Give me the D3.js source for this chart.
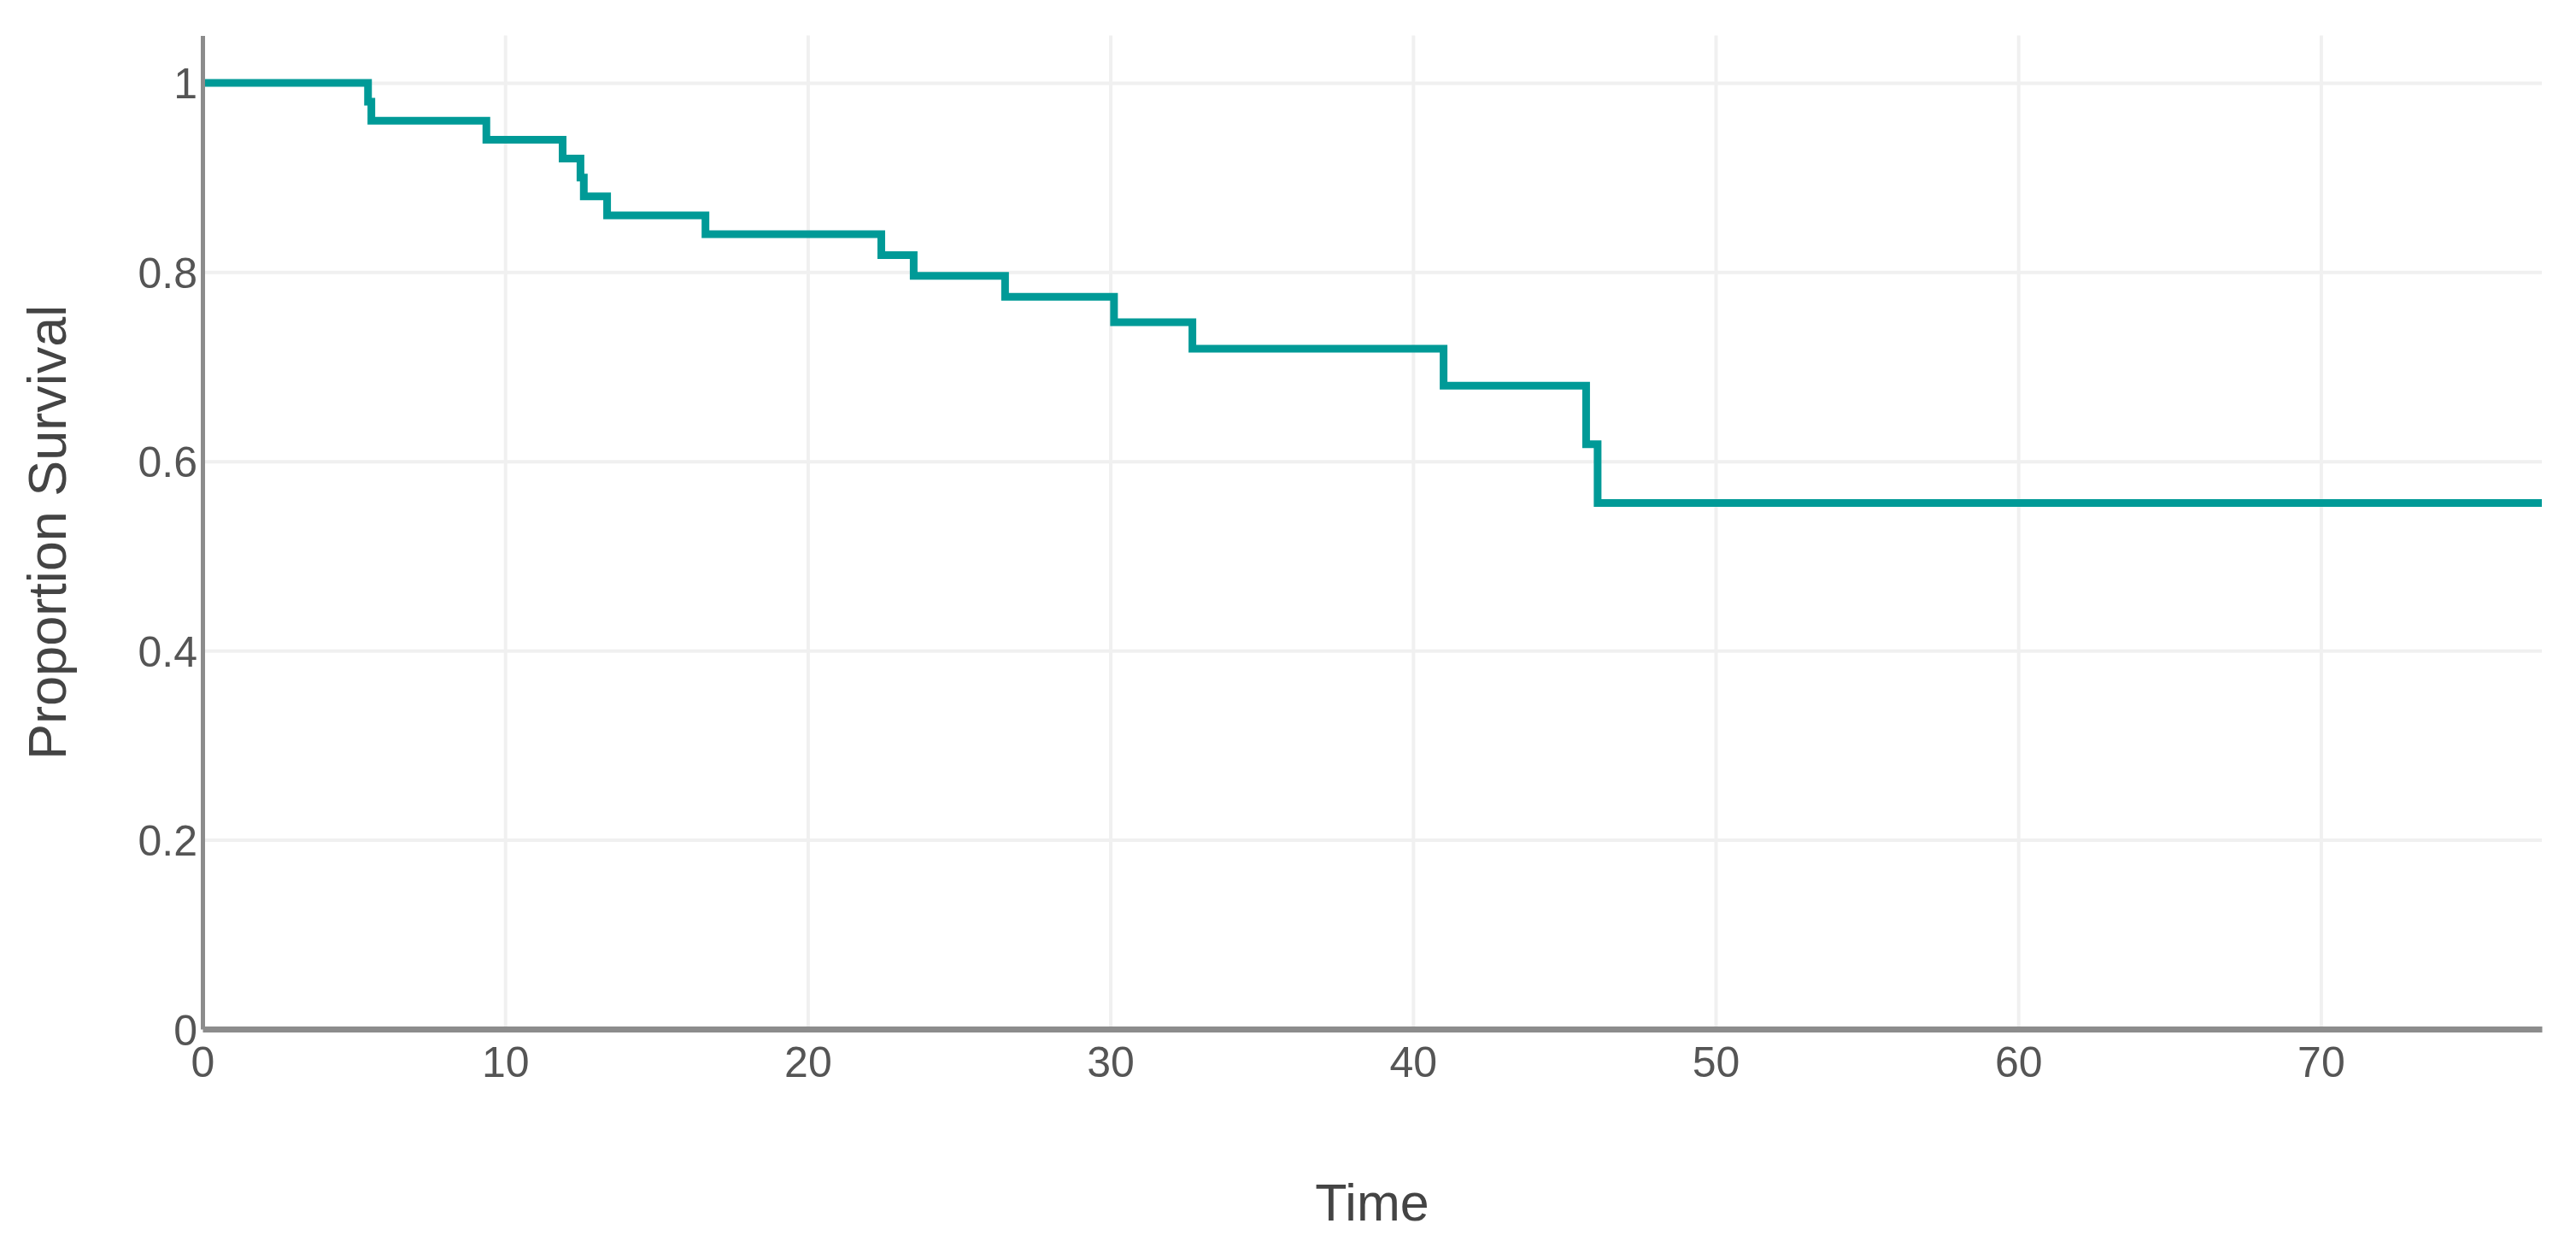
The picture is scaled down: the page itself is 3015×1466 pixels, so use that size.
<!DOCTYPE html>
<html>
<head>
<meta charset="utf-8">
<script src="https://cdn.jsdelivr.net/npm/d3@7"></script>
<style>
  html, body { margin: 0; padding: 0; background: #ffffff; }
  svg { display: block; }
  text { font-family: "Liberation Sans", Arial, Helvetica, sans-serif; }
</style>
</head>
<body>
<svg id="chart" width="3015" height="1466"></svg>
<script>
// ---- data ----
const times    = [0, 5.47, 5.58, 9.38, 11.9, 12.49, 12.6, 13.37, 16.62, 22.43, 23.5, 26.52, 30.12, 32.71, 41.01, 45.72, 46.1];
const survival = [1, 0.98, 0.96, 0.94, 0.92, 0.90, 0.88, 0.86, 0.84, 0.818, 0.796, 0.774, 0.747, 0.719, 0.680, 0.618, 0.556];
const timeEnd  = 77.3;
const xTicks   = [0, 10, 20, 30, 40, 50, 60, 70];
const yTicks   = [0, 0.2, 0.4, 0.6, 0.8, 1];
const yTickLabels = ["0", "0.2", "0.4", "0.6", "0.8", "1"];
const xTitle = "Time";
const yTitle = "Proportion Survival";

// ---- layout ----
const W = 3015, H = 1466;
const mLeft = 237, mRight = 2975, mTop = 41.6, mBottom = 1204;
const svg = d3.select("#chart");
svg.append("rect").attr("width", W).attr("height", H).attr("fill", "#ffffff");

const x = d3.scaleLinear().domain([0, timeEnd]).range([mLeft, mRight]);
const y = d3.scaleLinear().domain([0, 1.05]).range([mBottom, mTop]);

// gridlines
const gx = svg.append("g").attr("transform", `translate(0,${mBottom})`)
  .call(d3.axisBottom(x).tickValues(xTicks.filter(d => d > 0)).tickSize(-(mBottom - mTop)).tickFormat(""));
gx.select(".domain").remove();
gx.selectAll(".tick line").attr("stroke", "#f0f0f0").attr("stroke-width", 4);

const gy = svg.append("g").attr("transform", `translate(${mLeft},0)`)
  .call(d3.axisLeft(y).tickValues(yTicks.filter(d => d > 0)).tickSize(-(mRight - mLeft)).tickFormat(""));
gy.select(".domain").remove();
gy.selectAll(".tick line").attr("stroke", "#f0f0f0").attr("stroke-width", 4);

// curve
const pts = times.map((t, i) => [t, survival[i]]);
pts.push([timeEnd, survival[survival.length - 1]]);
const line = d3.line().x(d => x(d[0])).y(d => y(d[1])).curve(d3.curveStepAfter);
svg.append("path").datum(pts)
  .attr("d", line)
  .attr("fill", "none")
  .attr("stroke", "#009a97")
  .attr("stroke-width", 9)
  .attr("stroke-linejoin", "miter");

// axes
const ax = svg.append("g").attr("transform", `translate(0,${mBottom})`)
  .call(d3.axisBottom(x).tickValues(xTicks).tickSize(0).tickSizeOuter(0).tickFormat(d3.format("d")));
ax.select(".domain").attr("stroke", "#8c8c8c").attr("stroke-width", 7);
ax.selectAll(".tick text")
  .attr("y", 56).attr("dy", null)
  .attr("font-size", 50).attr("fill", "#555555");

const ay = svg.append("g").attr("transform", `translate(${mLeft},0)`)
  .call(d3.axisLeft(y).tickValues(yTicks).tickSize(0).tickSizeOuter(0)
    .tickFormat((d, i) => yTickLabels[i]));
ay.select(".domain").attr("stroke", "#8c8c8c").attr("stroke-width", 5);
ay.selectAll(".tick text")
  .attr("x", -6).attr("dy", "0.36em")
  .attr("font-size", 50).attr("fill", "#555555");

// titles
svg.append("text")
  .attr("x", (mLeft + mRight) / 2).attr("y", 1428)
  .attr("text-anchor", "middle")
  .attr("font-size", 61).attr("fill", "#444444")
  .text(xTitle);

svg.append("text")
  .attr("transform", `translate(77,${(mTop + mBottom) / 2}) rotate(-90)`)
  .attr("text-anchor", "middle")
  .attr("font-size", 63).attr("fill", "#444444")
  .text(yTitle);
</script>
</body>
</html>
